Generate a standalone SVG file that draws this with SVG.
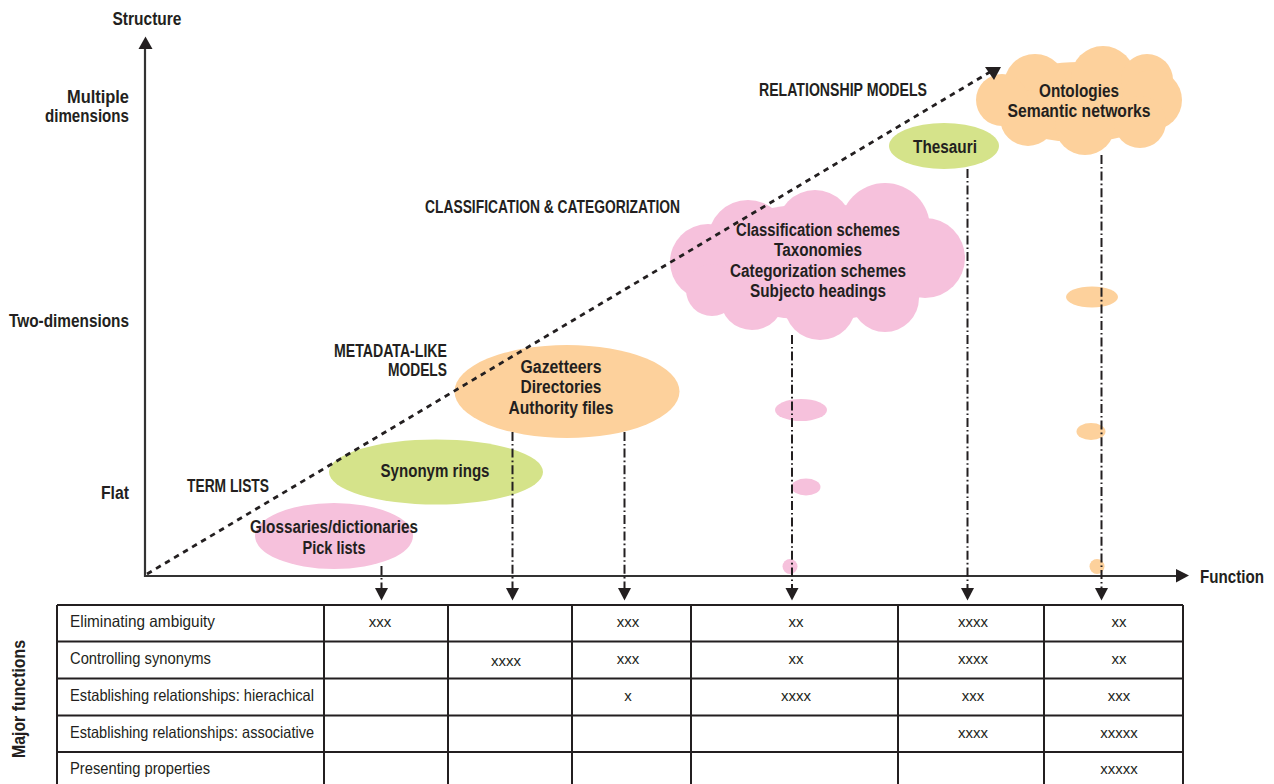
<svg xmlns="http://www.w3.org/2000/svg" width="1274" height="784" viewBox="0 0 1274 784">
  <style>
    text { font-family: "Liberation Sans Narrow", "Liberation Sans", Arial, sans-serif; fill: #231f20; }
    .b { font-weight: bold; font-size: 18px; }
    .m { text-anchor: middle; }
    .e { text-anchor: end; }
    .row { font-size: 16.5px; }
    .cell { font-size: 15px; text-anchor: middle; }
    .pink { fill: #f6c1dc; }
    .green { fill: #d5e38a; }
    .orange { fill: #fdd19c; }
    .axis { stroke: #333; stroke-width: 2.2; fill: none; }
    .drop { stroke: #231f20; stroke-width: 2; fill: none; stroke-dasharray: 9 3 1.6 3; }
    .trend { stroke: #231f20; stroke-width: 2.8; fill: none; stroke-dasharray: 5.5 5; }
    .grid { stroke: #231f20; stroke-width: 2; fill: none; }
    .head { fill: #231f20; }
  </style>

  <!-- axis labels -->
  <g id="axis-labels">
    <text class="b m" x="147" y="25" textLength="69" lengthAdjust="spacingAndGlyphs">Structure</text>
    <text class="b e" x="129" y="103" textLength="62" lengthAdjust="spacingAndGlyphs">Multiple</text>
    <text class="b e" x="129" y="122" textLength="84" lengthAdjust="spacingAndGlyphs">dimensions</text>
    <text class="b e" x="129" y="327" textLength="120" lengthAdjust="spacingAndGlyphs">Two-dimensions</text>
    <text class="b e" x="129" y="499" textLength="28" lengthAdjust="spacingAndGlyphs">Flat</text>
    <text class="b" x="1200" y="583" textLength="64" lengthAdjust="spacingAndGlyphs">Function</text>
  </g>

  <!-- category labels -->
  <g id="category-labels">
    <text class="b" x="759" y="96" textLength="168" lengthAdjust="spacingAndGlyphs">RELATIONSHIP MODELS</text>
    <text class="b" x="425" y="213" textLength="255" lengthAdjust="spacingAndGlyphs">CLASSIFICATION &amp; CATEGORIZATION</text>
    <text class="b e" x="447" y="357" textLength="113" lengthAdjust="spacingAndGlyphs">METADATA-LIKE</text>
    <text class="b e" x="447" y="376" textLength="59" lengthAdjust="spacingAndGlyphs">MODELS</text>
    <text class="b" x="187" y="492" textLength="82" lengthAdjust="spacingAndGlyphs">TERM LISTS</text>
  </g>

  <!-- small markers along the drop lines -->
  <g id="markers">
    <ellipse class="pink" cx="801" cy="410" rx="26" ry="11"/>
    <ellipse class="pink" cx="806" cy="487" rx="14.5" ry="8.5"/>
    <ellipse class="pink" cx="790" cy="566.5" rx="7.5" ry="7.5"/>
    <ellipse class="orange" cx="1092" cy="297" rx="26" ry="10.5"/>
    <ellipse class="orange" cx="1091" cy="431.5" rx="14.5" ry="8.5"/>
    <ellipse class="orange" cx="1097" cy="566.5" rx="7.5" ry="7.5"/>
  </g>

  <g id="glossaries">
    <ellipse class="pink" cx="334" cy="536" rx="79" ry="33"/>
    <text class="b m" x="334" y="533" textLength="168" lengthAdjust="spacingAndGlyphs">Glossaries/dictionaries</text>
    <text class="b m" x="334" y="554" textLength="63" lengthAdjust="spacingAndGlyphs">Pick lists</text>
  </g>

  <g id="synonym-rings">
    <ellipse class="green" cx="436" cy="472" rx="107" ry="32.5"/>
    <text class="b m" x="435" y="477" textLength="109" lengthAdjust="spacingAndGlyphs">Synonym rings</text>
  </g>

  <g id="gazetteers">
    <ellipse class="orange" cx="567" cy="391.5" rx="112.5" ry="46.5"/>
    <text class="b m" x="561" y="373" textLength="81" lengthAdjust="spacingAndGlyphs">Gazetteers</text>
    <text class="b m" x="561" y="393" textLength="81" lengthAdjust="spacingAndGlyphs">Directories</text>
    <text class="b m" x="561" y="414" textLength="105" lengthAdjust="spacingAndGlyphs">Authority files</text>
  </g>

  <g id="classification">
    <g class="pink">
      <ellipse cx="818" cy="262" rx="128" ry="58"/>
      <circle cx="748" cy="240" r="40"/>
      <circle cx="815" cy="228" r="38"/>
      <circle cx="885" cy="228" r="45"/>
      <circle cx="925" cy="258" r="40"/>
      <circle cx="885" cy="298" r="34"/>
      <circle cx="820" cy="304" r="36"/>
      <circle cx="752" cy="298" r="32"/>
      <circle cx="708" cy="262" r="38"/>
      <circle cx="712" cy="290" r="26"/>
    </g>
    <text class="b m" x="818" y="236" textLength="164" lengthAdjust="spacingAndGlyphs">Classification schemes</text>
    <text class="b m" x="818" y="256" textLength="88" lengthAdjust="spacingAndGlyphs">Taxonomies</text>
    <text class="b m" x="818" y="277" textLength="176" lengthAdjust="spacingAndGlyphs">Categorization schemes</text>
    <text class="b m" x="818" y="297" textLength="136" lengthAdjust="spacingAndGlyphs">Subjecto headings</text>
  </g>

  <g id="thesauri">
    <ellipse class="green" cx="944" cy="146" rx="55" ry="23"/>
    <text class="b m" x="945" y="153" textLength="64" lengthAdjust="spacingAndGlyphs">Thesauri</text>
  </g>

  <g id="ontologies">
    <g class="orange">
      <ellipse cx="1079" cy="102" rx="88" ry="40"/>
      <circle cx="1035" cy="85" r="31"/>
      <circle cx="1103" cy="78" r="32"/>
      <circle cx="1147" cy="80" r="26"/>
      <circle cx="1152" cy="100" r="30"/>
      <circle cx="1140" cy="122" r="26"/>
      <circle cx="1085" cy="125" r="30"/>
      <circle cx="1028" cy="118" r="28"/>
      <circle cx="1002" cy="100" r="26"/>
    </g>
    <text class="b m" x="1079" y="97" textLength="80" lengthAdjust="spacingAndGlyphs">Ontologies</text>
    <text class="b m" x="1079" y="117" textLength="143" lengthAdjust="spacingAndGlyphs">Semantic networks</text>
  </g>

  <!-- axes, trend line and drop lines -->
  <g id="connectors">
    <path class="axis" d="M145 577 V48 M144 576 H1177"/>
    <polygon class="head" points="138.5,49 152.5,49 145.5,36.5"/>
    <polygon class="head" points="1176,569 1176,582.5 1189,575.5"/>

    <path class="trend" d="M147 574 L990 72"/>
    <polygon class="head" points="985,67 1001,67 994,80"/>

    <path class="drop" d="M381.5 566 V590"/>
    <path class="drop" d="M512.5 432 V590"/>
    <path class="drop" d="M624.5 432 V590"/>
    <path class="drop" d="M792 335 V590"/>
    <path class="drop" d="M967.5 169 V590"/>
    <path class="drop" d="M1101.5 155 V590"/>
    <g class="head">
      <polygon points="375,588 388,588 381.5,600.5"/>
      <polygon points="506,588 519,588 512.5,600.5"/>
      <polygon points="618,588 631,588 624.5,600.5"/>
      <polygon points="785.5,588 798.5,588 792,600.5"/>
      <polygon points="961,588 974,588 967.5,600.5"/>
      <polygon points="1095,588 1108,588 1101.5,600.5"/>
    </g>
  </g>

  <!-- functions table -->
  <g id="functions-table">
    <path class="grid" d="M57 605 H1183 M57 641.5 H1183 M57 678.5 H1183 M57 715.5 H1183 M57 752 H1183
                          M57 605 V784 M324 605 V784 M448 605 V784 M572 605 V784 M691 605 V784 M898 605 V784 M1044 605 V784 M1183 605 V784"/>
    <text class="row" x="70" y="627" textLength="145" lengthAdjust="spacingAndGlyphs">Eliminating ambiguity</text>
    <text class="row" x="70" y="664" textLength="141" lengthAdjust="spacingAndGlyphs">Controlling synonyms</text>
    <text class="row" x="70" y="701" textLength="244" lengthAdjust="spacingAndGlyphs">Establishing relationships: hierachical</text>
    <text class="row" x="70" y="738" textLength="244" lengthAdjust="spacingAndGlyphs">Establishing relationships: associative</text>
    <text class="row" x="70" y="774" textLength="140" lengthAdjust="spacingAndGlyphs">Presenting properties</text>

    <text class="cell" x="380" y="627">xxx</text>
    <text class="cell" x="628" y="627">xxx</text>
    <text class="cell" x="796" y="627">xx</text>
    <text class="cell" x="973" y="627">xxxx</text>
    <text class="cell" x="1119" y="627">xx</text>

    <text class="cell" x="506" y="666">xxxx</text>
    <text class="cell" x="628" y="664">xxx</text>
    <text class="cell" x="796" y="664">xx</text>
    <text class="cell" x="973" y="664">xxxx</text>
    <text class="cell" x="1119" y="664">xx</text>

    <text class="cell" x="628" y="701">x</text>
    <text class="cell" x="796" y="701">xxxx</text>
    <text class="cell" x="973" y="701">xxx</text>
    <text class="cell" x="1119" y="701">xxx</text>

    <text class="cell" x="973" y="738">xxxx</text>
    <text class="cell" x="1119" y="738">xxxxx</text>

    <text class="cell" x="1119" y="774">xxxxx</text>

    <text class="b m" transform="translate(25 699) rotate(-90)" font-size="17" textLength="118" lengthAdjust="spacingAndGlyphs">Major functions</text>
  </g>
</svg>
